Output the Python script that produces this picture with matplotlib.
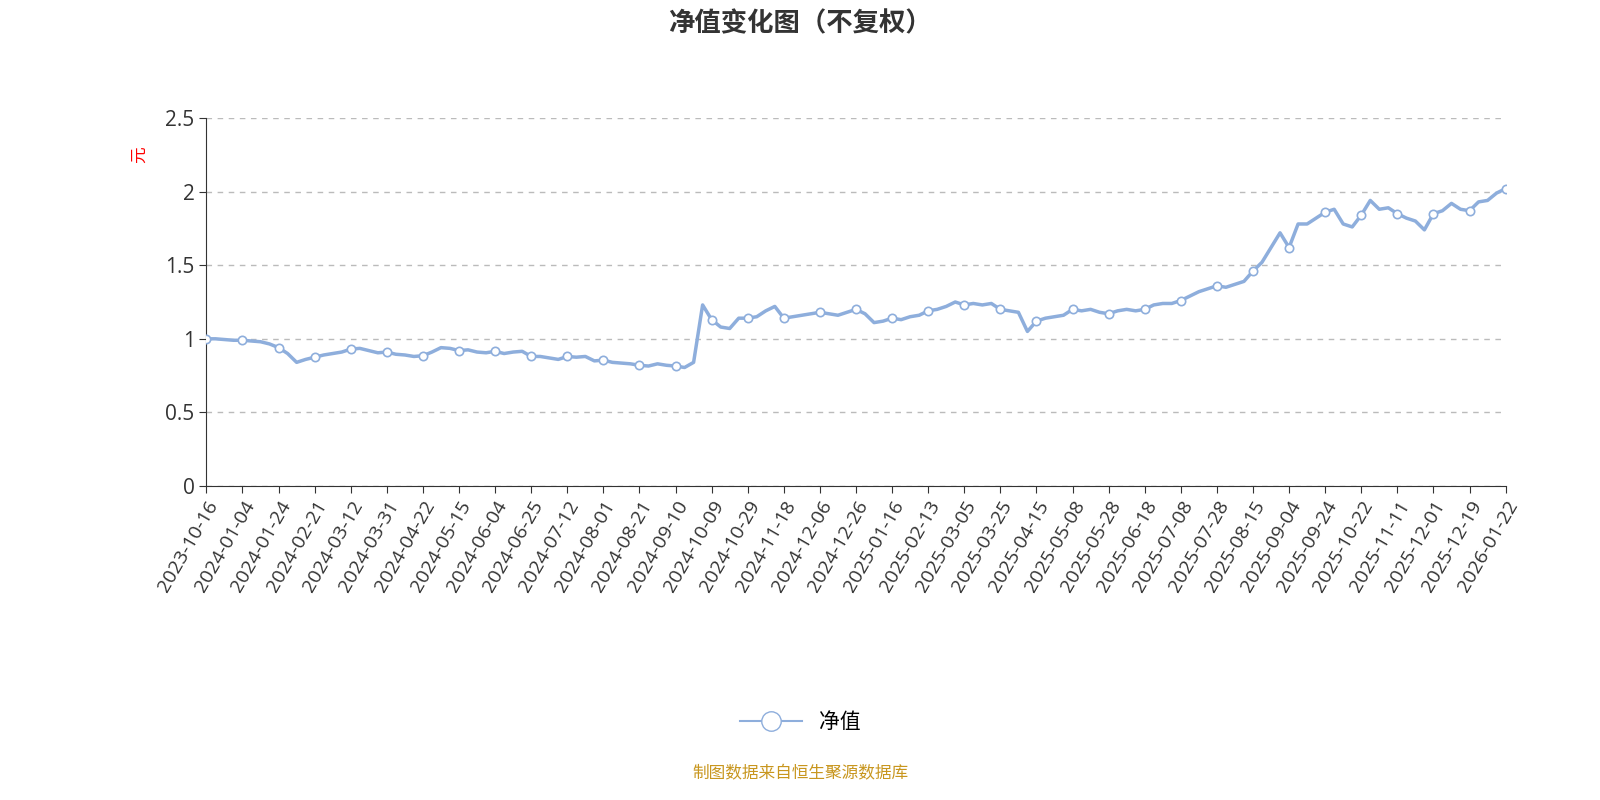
import matplotlib
matplotlib.use("Agg")
import matplotlib.pyplot as plt
import numpy as np

plt.rcParams['font.family'] = ['Open Sans', 'Noto Sans CJK SC', 'DejaVu Sans']

tick_labels = ["2023-10-16","2024-01-04","2024-01-24","2024-02-21","2024-03-12","2024-03-31",
"2024-04-22","2024-05-15","2024-06-04","2024-06-25","2024-07-12","2024-08-01","2024-08-21",
"2024-09-10","2024-10-09","2024-10-29","2024-11-18","2024-12-06","2024-12-26","2025-01-16",
"2025-02-13","2025-03-05","2025-03-25","2025-04-15","2025-05-08","2025-05-28","2025-06-18",
"2025-07-08","2025-07-28","2025-08-15","2025-09-04","2025-09-24","2025-10-22","2025-11-11",
"2025-12-01","2025-12-19","2026-01-22"]

nav = [1.00,1.00,0.995,0.99, 0.99,0.985,0.98,0.965, 0.94,0.90,0.84,0.86, 0.875,0.89,0.90,0.91,
0.93,0.935,0.92,0.905, 0.91,0.895,0.89,0.88, 0.885,0.91,0.94,0.935, 0.92,0.925,0.91,0.905,
0.915,0.90,0.91,0.915, 0.88,0.88,0.87,0.86, 0.88,0.875,0.88,0.85, 0.855,0.84,0.835,0.83,
0.82,0.815,0.83,0.82, 0.815,0.805,0.84,1.23, 1.13,1.08,1.07,1.14, 1.14,1.15,1.19,1.22,
1.14,1.15,1.16,1.17, 1.18,1.17,1.16,1.18, 1.20,1.17,1.11,1.12, 1.14,1.13,1.15,1.16,
1.19,1.20,1.22,1.25, 1.23,1.24,1.23,1.24, 1.20,1.19,1.18,1.05, 1.12,1.14,1.15,1.16,
1.20,1.19,1.20,1.18, 1.17,1.19,1.20,1.19, 1.20,1.23,1.24,1.24, 1.26,1.29,1.32,1.34,
1.36,1.35,1.37,1.39, 1.46,1.52,1.62,1.72, 1.62,1.78,1.78,1.82, 1.86,1.88,1.78,1.76,
1.84,1.94,1.88,1.89, 1.85,1.82,1.80,1.74, 1.85,1.87,1.92,1.88, 1.87,1.93,1.94,1.99, 2.02]

x = np.arange(len(nav)) / 4.0
color = '#8eaedc'

fig = plt.figure(figsize=(16, 8), dpi=100)
ax = fig.add_axes([0.129, 0.3925, 0.812, 0.46])
ax.plot(x, nav, color=color, lw=2.5, zorder=3)
ax.plot(x[::4], np.array(nav)[::4], ls='none', marker='o', ms=6, mfc='white', mec=color, mew=1.2, zorder=4)
ax.set_xlim(0, len(tick_labels) - 1)
ax.set_ylim(0, 2.5)
ax.set_yticks([0, 0.5, 1, 1.5, 2, 2.5])
ax.set_yticklabels(['0', '0.5', '1', '1.5', '2', '2.5'], fontsize=15, color='#333333')
ax.set_xticks(np.arange(len(tick_labels)))
ax.set_xticklabels(tick_labels, rotation=60, ha='right', rotation_mode='anchor', fontsize=14, color='#333333')
ax.yaxis.grid(True, ls=(0, (4, 4)), color='#bbbbbb', lw=1)
ax.set_axisbelow(True)
for s in ['top', 'right']:
    ax.spines[s].set_visible(False)
ax.spines['left'].set_color('#333333')
ax.spines['bottom'].set_color('#333333')
ax.tick_params(length=5, color='#333333')
ax.set_ylabel('元', color='red', fontsize=12, labelpad=22, family=['Noto Sans CJK SC'])
ax.yaxis.set_label_coords(-0.045, 0.9)

fig.text(0.5, 0.97, '净值变化图（不复权）', ha='center', va='center', fontsize=19, fontweight='bold', color='#333333',
         family=['Noto Sans CJK SC'])
from matplotlib.lines import Line2D
h = Line2D([], [], color=color, lw=1.5, marker='o', ms=14, mfc='white', mec=color)
fig.legend([h], ['净值'], loc='center', bbox_to_anchor=(0.5, 0.097), frameon=False, fontsize=15, handlelength=3,
           prop={'family': ['Noto Sans CJK SC'], 'size': 15})
fig.text(0.5, 0.033, '制图数据来自恒生聚源数据库', ha='center', va='center', fontsize=12, color='#c8961e',
         family=['Noto Sans CJK SC'])
fig.savefig('out.png')
